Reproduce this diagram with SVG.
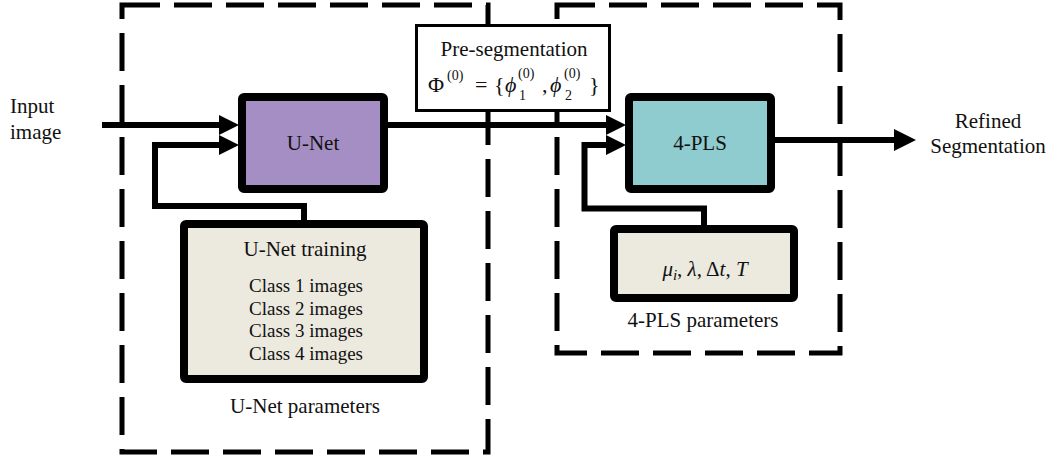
<svg xmlns="http://www.w3.org/2000/svg" width="1050" height="456" viewBox="0 0 1050 456">
  <style>
    text { font-family: "Liberation Serif", "Times New Roman", serif; fill: #111; }
    .frame { fill: none; stroke: #000; stroke-width: 5; stroke-dasharray: 38 14; }
    .block { stroke: #000; stroke-width: 8; stroke-linejoin: round; }
    .wire { fill: none; stroke: #000; stroke-width: 6; stroke-linejoin: miter; }
    .lbl { font-size: 21px; text-anchor: middle; }
    .sm { font-size: 19px; text-anchor: middle; }
    .it { font-style: italic; }
    .idx { font-size: 14px; }
  </style>
  <defs>
    <marker id="head" markerUnits="userSpaceOnUse" markerWidth="22" markerHeight="22" refX="0" refY="10" orient="auto">
      <path d="M0,0 L20,10 L0,20 Z" fill="#000"/>
    </marker>
    <marker id="headBig" markerUnits="userSpaceOnUse" markerWidth="24" markerHeight="24" refX="0" refY="11" orient="auto">
      <path d="M0,0 L22,11 L0,22 Z" fill="#000"/>
    </marker>
  </defs>

  <rect width="1050" height="456" fill="#fff"/>

  <!-- dashed stage frames -->
  <g id="frames">
    <rect class="frame" x="122" y="5" width="366" height="447"/>
    <rect class="frame" x="557" y="5" width="283" height="348"/>
  </g>

  <!-- connectors -->
  <g id="connectors">
    <line class="wire" x1="102" y1="125" x2="219" y2="125" marker-end="url(#head)"/>
    <path class="wire" d="M304,222 V206 H155 V145 H219" marker-end="url(#head)"/>
    <line class="wire" x1="388" y1="125" x2="606" y2="125" marker-end="url(#head)"/>
    <path class="wire" d="M704,226 V208.5 H584.5 V145 H606" marker-end="url(#head)"/>
    <line class="wire" x1="775" y1="140" x2="894" y2="140" marker-end="url(#headBig)"/>
  </g>

  <g id="input-label">
    <text x="10" y="113" font-size="21">Input</text>
    <text x="10" y="139" font-size="21">image</text>
  </g>

  <g id="presegmentation">
    <rect x="416.5" y="25.5" width="193" height="85" fill="#fff" stroke="#000" stroke-width="3"/>
    <text class="lbl" x="514" y="56">Pre-segmentation</text>
    <text font-size="22"><tspan x="428" y="92">Φ</tspan><tspan class="idx" x="447" y="80">(0)</tspan><tspan x="475" y="92">=</tspan><tspan x="494" y="92">{</tspan><tspan class="it" x="505" y="92">ϕ</tspan><tspan class="idx" x="518" y="78">(0)</tspan><tspan class="idx" x="519" y="100">1</tspan><tspan x="542" y="92">,</tspan><tspan class="it" x="550" y="92">ϕ</tspan><tspan class="idx" x="564" y="78">(0)</tspan><tspan class="idx" x="565" y="100">2</tspan><tspan x="589" y="92">}</tspan></text>
  </g>

  <g id="unet">
    <rect class="block" x="242" y="97" width="142" height="92" rx="2" fill="#A58EC3"/>
    <text class="lbl" x="313" y="150">U-Net</text>
  </g>

  <g id="unet-training">
    <rect class="block" x="184" y="224" width="240" height="155" rx="2" fill="#ECE9DF"/>
    <text class="lbl" x="305" y="256">U-Net training</text>
    <text class="sm" x="306" y="292">Class 1 images</text>
    <text class="sm" x="306" y="315">Class 2 images</text>
    <text class="sm" x="306" y="337">Class 3 images</text>
    <text class="sm" x="306" y="360">Class 4 images</text>
    <text class="lbl" x="305" y="413">U-Net parameters</text>
  </g>

  <g id="pls">
    <rect class="block" x="629" y="97" width="142" height="92" rx="2" fill="#8FCCCF"/>
    <text class="lbl" x="700" y="150">4-PLS</text>
  </g>

  <g id="pls-parameters">
    <rect class="block" x="614" y="229" width="180" height="69" rx="2" fill="#ECE9DF"/>
    <text font-size="21" x="705" y="276" text-anchor="middle"><tspan class="it">μ</tspan><tspan class="it" font-size="15" dy="4">i</tspan><tspan dy="-4">, </tspan><tspan class="it">λ</tspan><tspan>, Δ</tspan><tspan class="it">t</tspan><tspan>, </tspan><tspan class="it">T</tspan></text>
    <text class="lbl" x="703" y="327">4-PLS parameters</text>
  </g>

  <g id="output-label">
    <text class="lbl" x="988" y="128">Refined</text>
    <text class="lbl" x="988" y="153">Segmentation</text>
  </g>
</svg>
